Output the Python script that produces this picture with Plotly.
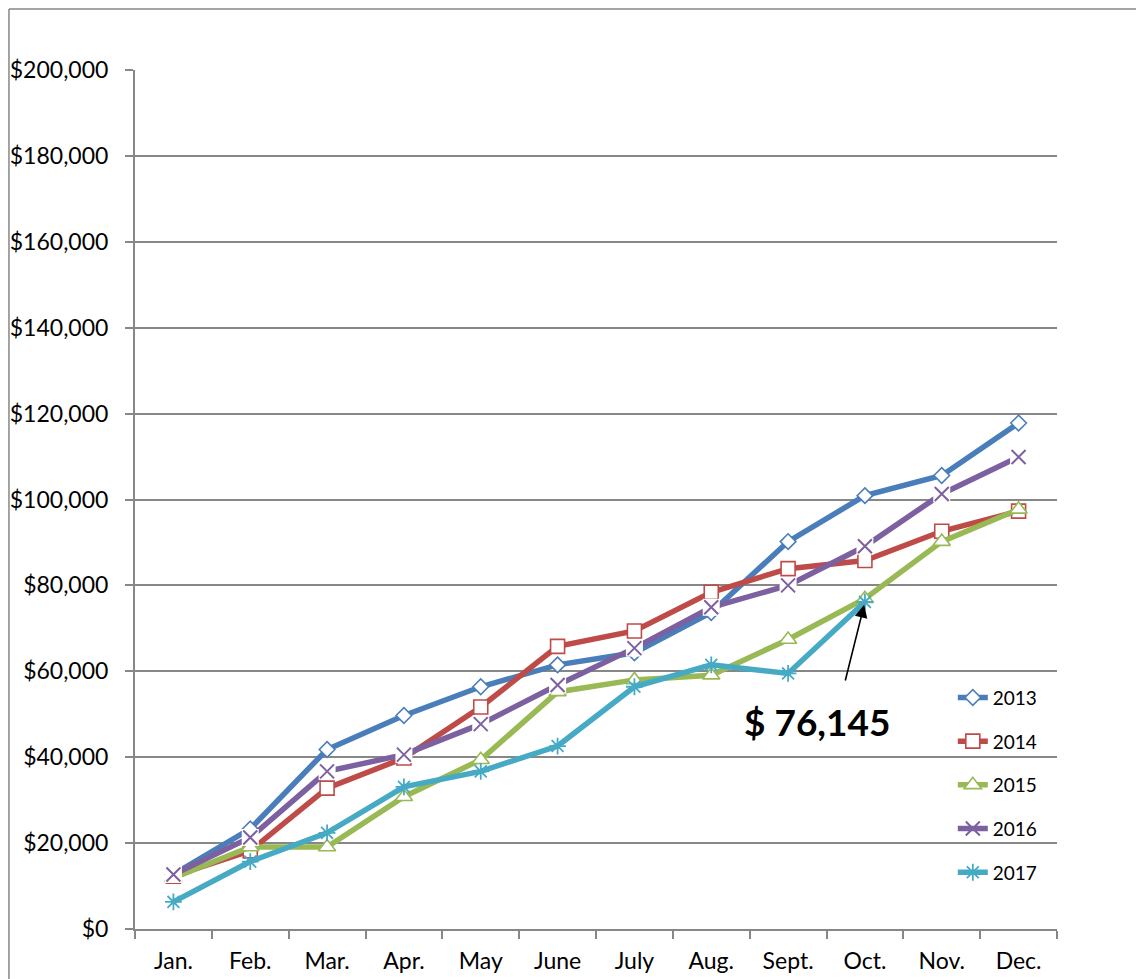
import plotly.graph_objects as go

# -----------------------------
# Data
# -----------------------------
months = ["Jan.", "Feb.", "Mar.", "Apr.", "May", "June",
          "July", "Aug.", "Sept.", "Oct.", "Nov.", "Dec."]

y2013 = [12700, 23300, 41800, 49700, 56400, 61500, 64300, 73700, 90200, 100900, 105600, 117800]
y2014 = [12300, 18200, 32800, 39800, 51700, 65800, 69400, 78400, 83900, 85800, 92600, 97300]
y2015 = [11900, 19100, 19100, 30800, 39400, 55200, 58000, 59100, 67400, 76900, 90200, 97700]
y2016 = [12700, 21300, 36700, 40600, 47700, 56800, 65400, 74900, 80000, 89100, 101300, 109900]
y2017 = [6300, 15700, 22400, 33100, 36700, 42600, 56400, 61500, 59500, 76145]

y_ticks = [0, 20000, 40000, 60000, 80000, 100000, 120000, 140000, 160000, 180000, 200000]
y_tick_text = [f"${v:,}" for v in y_ticks]

GRID = "#878787"
FONT = "Lato"
LW = 5.5

fig = go.Figure()


def add_series(name, values, color, symbol, size, white_fill=True):
    fig.add_trace(go.Scatter(
        x=months[:len(values)], y=values, name=name, mode="lines+markers",
        legendgroup=name,
        line=dict(color=color, width=LW),
        marker=dict(symbol=symbol, size=size,
                    color="white" if white_fill else color,
                    line=dict(color=color, width=1.6)),
    ))


add_series("2013", y2013, "#4A7EBB", "diamond", 12)
add_series("2014", y2014, "#BE4B48", "square", 14)
add_series("2015", y2015, "#98B954", "triangle-up", 15)

# 2016: line, then white boxes behind the crosses (Excel style)
fig.add_trace(go.Scatter(
    x=months, y=y2016, name="2016", mode="lines+markers", legendgroup="2016",
    line=dict(color="#7D60A0", width=LW),
    marker=dict(symbol="x-thin", size=14, line=dict(color="#7D60A0", width=2)),
))
fig.add_trace(go.Scatter(
    x=months, y=y2016, mode="markers", legendgroup="2016", showlegend=False,
    marker=dict(symbol="square", size=17, color="white", line=dict(width=0)),
    hoverinfo="skip",
))
fig.add_trace(go.Scatter(
    x=months, y=y2016, mode="markers", legendgroup="2016", showlegend=False,
    marker=dict(symbol="x-thin", size=14, line=dict(color="#7D60A0", width=2)),
    hoverinfo="skip",
))

fig.add_trace(go.Scatter(
    x=months[:len(y2017)], y=y2017, name="2017", mode="lines+markers",
    legendgroup="2017",
    line=dict(color="#46AAC5", width=LW),
    marker=dict(symbol="asterisk-open", size=14, line=dict(color="#46AAC5", width=1.8)),
))

# Callout for the latest 2017 value
fig.add_annotation(
    x=0.740, y=48200, xref="paper", yref="y", xanchor="center", yanchor="middle",
    text=f"<b>$ {y2017[-1]:,}</b>", showarrow=False,
    font=dict(family=FONT, size=37, color="black"),
)
fig.add_annotation(
    x=months[len(y2017) - 1], y=y2017[-1], xref="x", yref="y",
    text="", showarrow=True, ax=-20, ay=80, axref="pixel", ayref="pixel",
    arrowhead=2, arrowsize=1.6, arrowwidth=1.6, arrowcolor="black", standoff=3,
)

# outer chart frame: only its left and top edges are in view
fig.add_shape(type="line", xref="paper", yref="paper",
              x0=-0.1367, y0=-0.3, x1=-0.1367, y1=1.0710,
              line=dict(color=GRID, width=1.5), layer="below")
fig.add_shape(type="line", xref="paper", yref="paper",
              x0=-0.1367, y0=1.0710, x1=1.3, y1=1.0710,
              line=dict(color=GRID, width=1.5), layer="below")

# page body adds an 8px offset, so the figure is sized to fit inside the window
fig.update_layout(
    width=1136, height=971,
    margin=dict(l=127, r=87, t=62, b=50),
    paper_bgcolor="white", plot_bgcolor="white",
    font=dict(family=FONT, size=23, color="black"),
    showlegend=True,
    legend=dict(x=0.887, y=0.2915, xanchor="left", yanchor="top",
                bgcolor="rgba(0,0,0,0)", font=dict(size=19),
                traceorder="grouped", tracegroupgap=16),
    xaxis=dict(
        type="category", range=[-0.5, 11.5], automargin=False,
        showline=True, linecolor=GRID, linewidth=2,
        ticks="outside", tickson="boundaries", ticklen=8, tickcolor=GRID, tickwidth=1.5,
        showgrid=False, ticklabelstandoff=10,
    ),
    yaxis=dict(
        range=[0, 200000], tickvals=y_ticks, ticktext=y_tick_text, automargin=False,
        showline=True, linecolor=GRID, linewidth=2,
        ticks="outside", ticklen=8, tickcolor=GRID, tickwidth=1.5,
        showgrid=True, gridcolor=GRID, gridwidth=1.5, zeroline=False,
        ticklabelstandoff=12,
    ),
)

fig.write_html("out.html")
